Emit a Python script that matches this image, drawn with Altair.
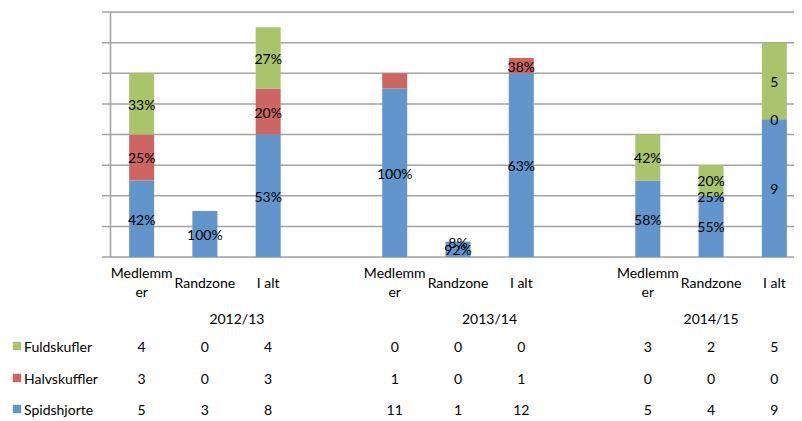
import altair as alt
import pandas as pd

groups = ["2012/13", "2013/14", "2014/15"]
subcats = ["Medlemmer", "Randzone", "I alt"]
series = ["Spidshjorte", "Halvskuffler", "Fuldskufler"]  # bottom -> top
colors = ["#6195CB", "#CD6662", "#A9C46B"]

spidshjorte = [5, 3, 8, 11, 1, 12, 5, 4, 9]
halvskuffler = [3, 0, 3, 1, 0, 1, 0, 0, 0]
fuldskufler = [4, 0, 4, 0, 0, 0, 3, 2, 5]

spids_labels = ["42%", "100%", "53%", "100%", "92%", "63%", "58%", "55%", "9"]
halv_labels = ["25%", "", "20%", "", "8%", "38%", "", "25%", "0"]
fuld_labels = ["33%", "", "27%", "", "", "", "42%", "20%", "5"]

grid_values = [0, 2, 4, 6, 8, 10, 12, 14, 16]

values = {"Spidshjorte": spidshjorte, "Halvskuffler": halvskuffler, "Fuldskufler": fuldskufler}
labels = {"Spidshjorte": spids_labels, "Halvskuffler": halv_labels, "Fuldskufler": fuld_labels}

# slot keys (with blank gap slots between groups)
slot_keys = []
bar_keys = []
for gi, g in enumerate(groups):
    for c in subcats:
        k = f"{g}|{c}"
        slot_keys.append(k)
        bar_keys.append(k)
    if gi < len(groups) - 1:
        slot_keys.append(f"gap{gi}")

rows = []
for si, s in enumerate(series):
    for i, k in enumerate(bar_keys):
        rows.append({"slot": k, "series": s, "order": si, "value": values[s][i], "label": labels[s][i]})
df = pd.DataFrame(rows)
df["base"] = 0.0
for k in bar_keys:
    acc = 0.0
    for s in series:
        m = (df.slot == k) & (df.series == s)
        v = float(df.loc[m, "value"].iloc[0])
        df.loc[m, "base"] = acc
        acc += v
df["mid"] = df["base"] + df["value"] / 2.0
lab_df = df[df.label != ""]

W, H = 684, 245
RANGE_W = 696
FONT = "Lato"
GRID = "#A3A3A3"

xscale = alt.Scale(domain=slot_keys, range=[0, RANGE_W], paddingInner=0.605, paddingOuter=0.3025)
yscale = alt.Scale(domain=[0, 16], nice=False)

label_expr = ("indexof(datum.value,'gap')==0 ? '' : "
              "(indexof(datum.value,'Medlemmer')>=0 ? ['Medlemm','er'] : split(datum.value,'|')[1])")

xenc = alt.X("slot:N", scale=xscale, sort=slot_keys, title=None,
             axis=alt.Axis(labelExpr=label_expr, ticks=False, labelAngle=0,
                           labelPadding={"condition": {"test": "indexof(datum.value,'Medlemmer')>=0", "value": 16},
                                         "value": 26},
                           labelBaseline="middle", labelFont=FONT, labelFontSize=14,
                           labelColor="#000000", labelLineHeight=19, domain=False,
                           labelOverlap=False, labelLimit=200))

gdf = pd.DataFrame({"g": grid_values})
grid = alt.Chart(gdf).mark_rule(color=GRID, strokeWidth=1.5).encode(
    y=alt.Y("g:Q", scale=yscale, title=None,
            axis=alt.Axis(labels=False, ticks=False, grid=False, domainColor=GRID, domainWidth=1.5)),
    x=alt.value(-8), x2=alt.value(RANGE_W),
)

bars = alt.Chart(df).mark_bar(size=25).encode(
    x=xenc,
    y=alt.Y("value:Q", stack="zero", scale=yscale, title=None),
    color=alt.Color("series:N", scale=alt.Scale(domain=series, range=colors), legend=None),
    order=alt.Order("order:Q"),
)

texts = alt.Chart(lab_df).mark_text(font=FONT, fontSize=14, color="#000000", dy=2, baseline="middle").encode(
    x=alt.X("slot:N", scale=xscale, sort=slot_keys),
    y=alt.Y("mid:Q", scale=yscale),
    text="label:N",
)

# data table below the chart
table_rows = ["Fuldskufler", "Halvskuffler", "Spidshjorte"]
row_y = {"Fuldskufler": 336, "Halvskuffler": 368, "Spidshjorte": 399}
tables = []
for r in table_rows:
    tdf = pd.DataFrame({"slot": bar_keys, "v": [str(v) for v in values[r]]})
    tables.append(alt.Chart(tdf).mark_text(font=FONT, fontSize=14, color="#000000", baseline="middle").encode(
        x=alt.X("slot:N", scale=xscale, sort=slot_keys),
        y=alt.value(row_y[r]),
        text="v:N",
    ))
    sq = pd.DataFrame({"series": [r]})
    tables.append(alt.Chart(sq).mark_square(size=70, opacity=1).encode(
        x=alt.value(-93), y=alt.value(row_y[r] - 2),
        color=alt.Color("series:N", scale=alt.Scale(domain=series, range=colors), legend=None),
    ))
    tables.append(alt.Chart(sq).mark_text(font=FONT, fontSize=14, color="#000000", align="left",
                                          baseline="middle").encode(
        x=alt.value(-86), y=alt.value(row_y[r]), text="series:N"))

hdr_df = pd.DataFrame({"slot": [f"{g}|Randzone" for g in groups], "g": groups, "off": [32, 31.5, 0]})
headers = []
for i, g in enumerate(groups):
    h = hdr_df.iloc[[i]]
    headers.append(alt.Chart(h).mark_text(font=FONT, fontSize=14, color="#000000", baseline="middle",
                                          dx=float(h["off"].iloc[0])).encode(
        x=alt.X("slot:N", scale=xscale, sort=slot_keys),
        y=alt.value(308),
        text="g:N"))

chart = alt.layer(grid, bars, texts, *tables, *headers).properties(
    width=W, height=H,
    autosize=alt.AutoSizeParams(type="none"),
    padding={"left": 102, "top": 4, "right": 0, "bottom": 162},
).configure_view(strokeWidth=0).configure(background="white")

chart.save("out.html", embed_options={"renderer": "svg", "actions": False})
